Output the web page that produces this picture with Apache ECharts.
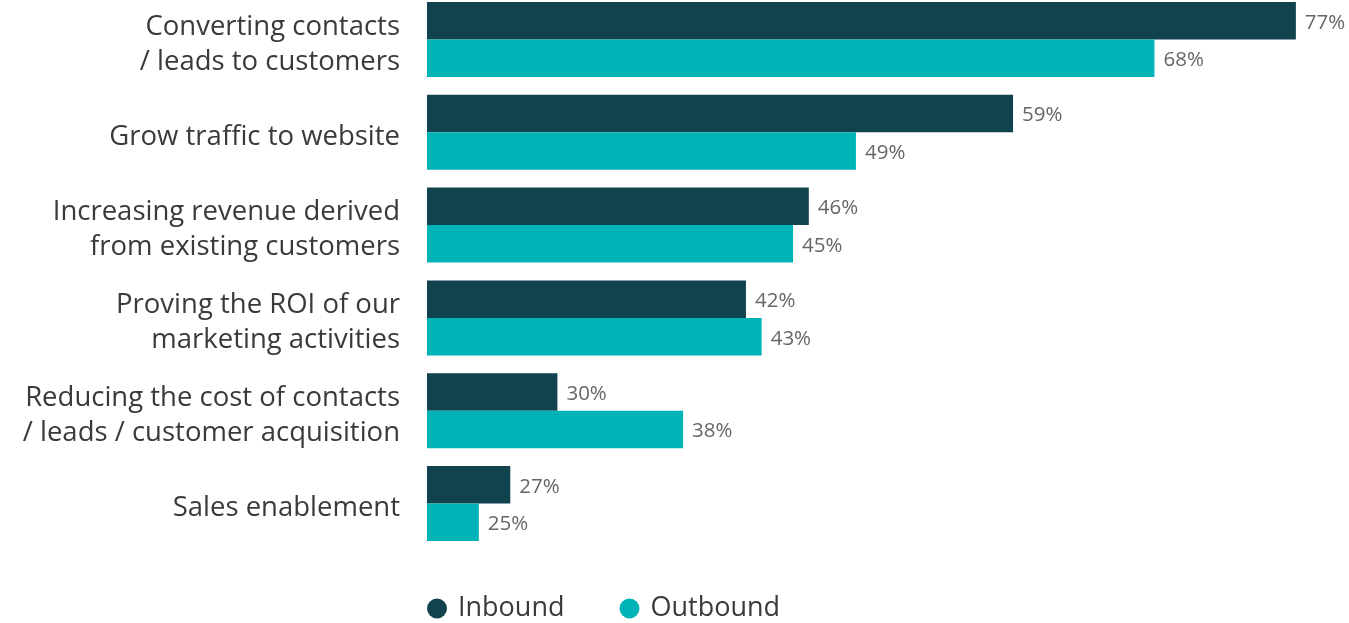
<!DOCTYPE html>
<html>
<head>
<meta charset="utf-8">
<script src="https://cdn.jsdelivr.net/npm/echarts@6/dist/echarts.min.js"></script>
<style>
html,body{margin:0;padding:0;background:#fff;}
#chart{width:1349px;height:623px;}
</style>
</head>
<body>
<div id="chart"></div>
<script>
const categories = [
  "Converting contacts\n/ leads to customers",
  "Grow traffic to website",
  "Increasing revenue derived\nfrom existing customers",
  "Proving the ROI of our\nmarketing activities",
  "Reducing the cost of contacts\n/ leads / customer acquisition",
  "Sales enablement"
];
const inbound = [77, 59, 46, 42, 30, 27];
const outbound = [68, 49, 45, 43, 38, 25];
const seriesNames = ["Inbound", "Outbound"];

const FONT = "Open Sans";
const chart = echarts.init(document.getElementById('chart'), null, {renderer: 'canvas'});
const labelStyle = {
  show: true,
  position: 'right',
  distance: 9,
  offset: [0, 2],
  formatter: '{c}%',
  color: '#666666',
  fontSize: 20.5,
  fontFamily: FONT
};
chart.setOption({
  animation: false,
  textStyle: {fontFamily: FONT},
  legend: {
    left: 427,
    top: 595,
    padding: 0,
    icon: 'circle',
    itemWidth: 20,
    itemHeight: 20,
    itemGap: 55,
    textStyle: {fontSize: 27, color: '#3a3a3a', fontFamily: FONT, padding: [0, 0, 0, 6]},
    data: seriesNames
  },
  grid: {left: 427, right: 6, top: -7, bottom: 73, containLabel: false, outerBoundsMode: 'none'},
  xAxis: {
    type: 'value',
    min: 21.7,
    max: 80,
    show: false,
    splitLine: {show: false}
  },
  yAxis: {
    type: 'category',
    inverse: true,
    data: categories,
    axisLine: {show: false},
    axisTick: {show: false},
    axisLabel: {
      margin: 27,
      align: 'right',
      formatter: function (v) {
        return '{s| }\n' + v.split('\n').map(function (l) { return '{a|' + l + '}'; }).join('\n');
      },
      rich: {
        s: {fontSize: 1, lineHeight: 10},
        a: {fontSize: 27.5, lineHeight: 35, color: '#3a3a3a', fontFamily: FONT, align: 'right'}
      }
    }
  },
  series: [
    {
      name: seriesNames[0],
      type: 'bar',
      data: inbound,
      barGap: '0%',
      barCategoryGap: '19.2%',
      itemStyle: {color: '#11434f'},
      label: labelStyle
    },
    {
      name: seriesNames[1],
      type: 'bar',
      data: outbound,
      barGap: '0%',
      barCategoryGap: '19.2%',
      itemStyle: {color: '#00b3b6'},
      label: labelStyle
    }
  ]
});
</script>
</body>
</html>
